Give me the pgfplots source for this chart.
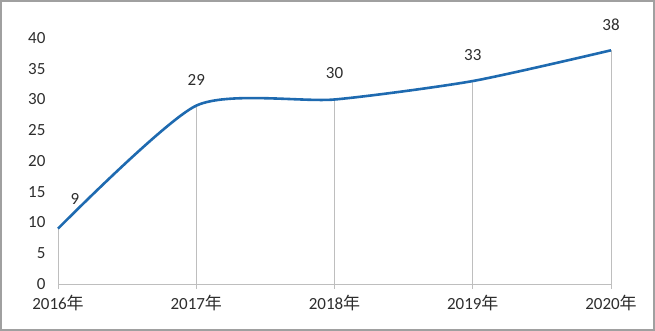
\documentclass[border=0pt]{standalone}
\usepackage{pgfplots}
\pgfplotsset{compat=1.18}
\usepackage{fontspec}
\setmainfont{Carlito}
\newfontfamily\cjk{Noto Sans CJK SC}
\definecolor{lineblue}{RGB}{30,106,176}
\definecolor{txt}{RGB}{45,45,45}
\definecolor{gridc}{RGB}{190,190,190}
\definecolor{framec}{RGB}{160,160,160}
\begin{document}
\begin{tikzpicture}
\draw[framec, line width=2pt] (1pt,1pt) rectangle (654pt,330pt);
\begin{axis}[
  at={(58pt,47pt)}, anchor=south west,
  scale only axis, width=553pt, height=246pt,
  xmin=0, xmax=4, ymin=0, ymax=40,
  axis x line*=bottom, axis y line*=left,
  x axis line style={gridc, line width=0.8pt, -},
  y axis line style={draw=none},
  clip=false,
  ytick={0,5,...,40},
  xtick={0,1,2,3,4},
  xticklabels={2016{\cjk 年},2017{\cjk 年},2018{\cjk 年},2019{\cjk 年},2020{\cjk 年}},
  tick label style={font=\fontsize{17}{18}\selectfont, text=txt},
  /pgf/number format/assume math mode=true,
  yticklabel style={anchor=east, xshift=-9pt},
  xticklabel style={anchor=center, yshift=-14pt},
  xtick align=outside,
  x tick style={gridc, line width=0.8pt},
  major tick length=5pt,
  ytick style={draw=none},
]
\addplot[gridc, line width=0.8pt, ycomb, forget plot] coordinates {(0,9) (1,29) (2,30) (3,33) (4,38)};
\addplot[lineblue, line width=2.6pt, smooth, tension=0.4] coordinates {(0,9) (1,29) (2,30) (3,33) (4,38)};
\addplot[draw=none, nodes near coords, point meta=explicit symbolic,
  every node near coord/.style={anchor=center, yshift=26pt, text=txt, font=\fontsize{17}{18}\selectfont}]
  coordinates {(1,29)[29] (2,30)[30] (3,33)[33] (4,38)[38]};
\addplot[draw=none, nodes near coords, point meta=explicit symbolic,
  every node near coord/.style={anchor=center, xshift=17pt, yshift=30pt, text=txt, font=\fontsize{17}{18}\selectfont}]
  coordinates {(0,9)[9]};
\end{axis}
\end{tikzpicture}
\end{document}
